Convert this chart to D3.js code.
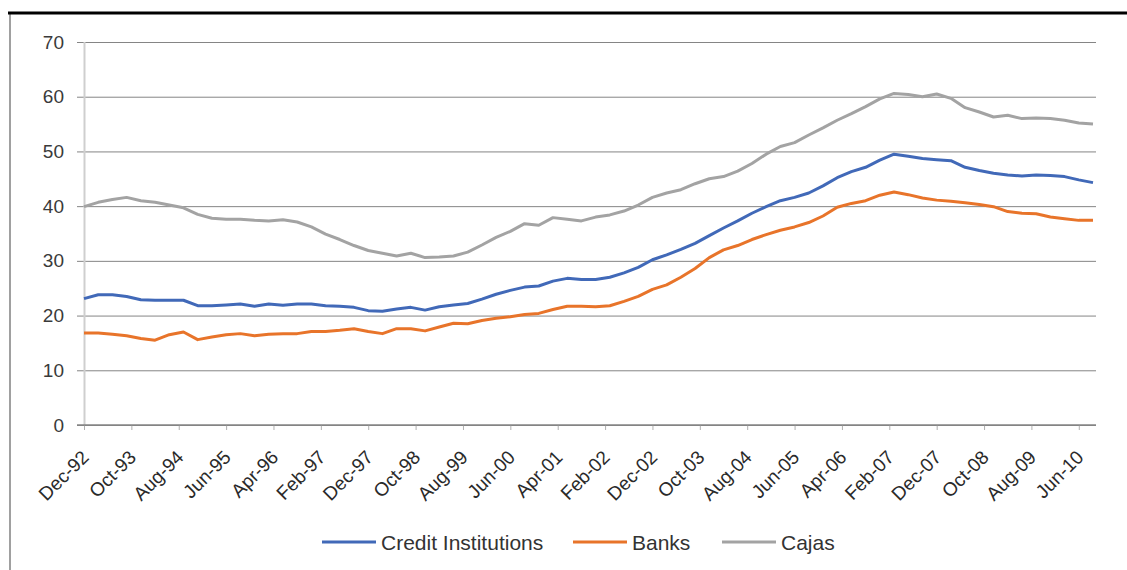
<!DOCTYPE html>
<html>
<head>
<meta charset="utf-8">
<script src="https://cdn.jsdelivr.net/npm/d3@7"></script>
<style>
  body { margin: 0; background: #fff; }
  svg { display: block; font-family: "Liberation Sans", Arial, sans-serif; }
</style>
</head>
<body>
<svg id="chart" width="1127" height="570"></svg>
<script>
// quarterly readings, Dec-92 .. Sep-10 (month offset 0..213)
const months = d3.range(0, 214, 3);

const cajas = [39.9, 40.7, 41.2, 41.6, 41.0, 40.7, 40.2, 39.7, 38.5, 37.8, 37.6, 37.6, 37.4, 37.3, 37.5, 37.1, 36.2, 34.9,
    33.9, 32.8, 31.9, 31.4, 30.9, 31.4, 30.6, 30.7, 30.9, 31.6, 32.9, 34.3, 35.4, 36.8, 36.5, 37.9, 37.6, 37.3,
    38.0, 38.4, 39.1, 40.2, 41.6, 42.4, 43.0, 44.1, 45.0, 45.4, 46.4, 47.8, 49.5, 50.9, 51.6, 53.0, 54.3, 55.7,
    56.9, 58.2, 59.6, 60.6, 60.4, 60.0, 60.5, 59.7, 58.0, 57.2, 56.3, 56.6, 56.0, 56.1, 56.0, 55.7, 55.2, 55.0];

const creditInst = [23.1, 23.8, 23.8, 23.5, 22.9, 22.8, 22.8, 22.8, 21.8, 21.8, 21.95, 22.1, 21.7, 22.1, 21.9, 22.1, 22.1, 21.8,
    21.7, 21.5, 20.9, 20.8, 21.2, 21.5, 21.0, 21.6, 21.95, 22.2, 23.0, 23.9, 24.6, 25.2, 25.4, 26.3, 26.8, 26.6,
    26.6, 27.0, 27.8, 28.8, 30.2, 31.1, 32.1, 33.2, 34.6, 36.0, 37.3, 38.7, 39.9, 41.0, 41.6, 42.4, 43.7, 45.2,
    46.3, 47.1, 48.4, 49.5, 49.1, 48.7, 48.5, 48.3, 47.1, 46.5, 46.0, 45.7, 45.5, 45.7, 45.6, 45.4, 44.8, 44.3];

const banks = [16.8, 16.8, 16.6, 16.3, 15.8, 15.5, 16.5, 17.0, 15.6, 16.1, 16.5, 16.7, 16.3, 16.6, 16.7, 16.7, 17.1, 17.1,
    17.3, 17.6, 17.1, 16.7, 17.6, 17.6, 17.2, 17.9, 18.6, 18.5, 19.1, 19.5, 19.8, 20.2, 20.4, 21.1, 21.7, 21.7,
    21.6, 21.8, 22.6, 23.5, 24.8, 25.6, 27.0, 28.6, 30.6, 32.0, 32.8, 33.9, 34.8, 35.6, 36.2, 37.0, 38.2, 39.8,
    40.5, 41.0, 42.0, 42.6, 42.1, 41.5, 41.1, 40.9, 40.6, 40.3, 39.9, 39.0, 38.7, 38.6, 38.0, 37.7, 37.4, 37.4];

// one label every 10 months
const tickLabels = ["Dec-92", "Oct-93", "Aug-94", "Jun-95", "Apr-96", "Feb-97", "Dec-97", "Oct-98", "Aug-99", "Jun-00",
    "Apr-01", "Feb-02", "Dec-02", "Oct-03", "Aug-04", "Jun-05", "Apr-06", "Feb-07", "Dec-07", "Oct-08", "Aug-09", "Jun-10"];
const yTicks = [0, 10, 20, 30, 40, 50, 60, 70];

const seriesNames = ["Credit Institutions", "Banks", "Cajas"];
const seriesColors = ["#4169b8", "#e8742a", "#a3a3a3"];

const svg = d3.select("#chart");

let x = d3.scaleLinear().domain([0, 213]).range([84, 1093]);
let y = d3.scaleLinear().domain([0, 70]).range([425, 42]);

// outer frame
svg.append("line").attr("x1", 10).attr("x2", 10).attr("y1", 12).attr("y2", 570)
    .style("stroke", "#a0a0a0").style("stroke-width", 2);
svg.append("line").attr("x1", 8).attr("x2", 1127).attr("y1", 13).attr("y2", 13)
    .style("stroke", "#000").style("stroke-width", 3);

// gridlines + y labels
let yAxis = d3.axisLeft(y).tickValues(yTicks).tickSize(-(1096 - 77)).tickPadding(13);
let yG = svg.append("g").attr("transform", "translate(77,0)").call(yAxis);
yG.select(".domain").remove();
yG.selectAll(".tick line").style("stroke", "#858585").style("stroke-width", 1);
yG.selectAll(".tick text").style("font-size", "19px").style("fill", "#3a3a3a");

// vertical axis line
svg.append("line").attr("x1", 84.5).attr("x2", 84.5).attr("y1", y(70)).attr("y2", y(0))
    .style("stroke", "#cfcfcf").style("stroke-width", 2);

// x axis
let xAxis = d3.axisBottom(x)
    .tickValues(tickLabels.map(function(d, i){ return i * 10; }))
    .tickFormat(function(d){ return tickLabels[d / 10]; })
    .tickSize(5).tickSizeOuter(0);
let xG = svg.append("g").attr("transform", "translate(0," + y(0) + ")").call(xAxis);
xG.select(".domain").remove();
xG.selectAll(".tick line").style("stroke", "#b0b0b0");
xG.selectAll(".tick text")
    .style("font-size", "19px").style("fill", "#2a2a2a")
    .attr("text-anchor", "end")
    .attr("y", 0).attr("dy", "0.7em")
    .attr("transform", "translate(-4,24) rotate(-45)");
svg.append("line").attr("x1", 77).attr("x2", 1096).attr("y1", y(0)).attr("y2", y(0))
    .style("stroke", "#858585").style("stroke-width", 1.5);

// series lines
let line = d3.line()
    .x(function(d, i){ return x(months[i]); })
    .y(function(d){ return y(d); });

[creditInst, banks, cajas].forEach(function(s, sIdx){
    svg.append("path")
        .attr("d", line(s))
        .style("fill", "none")
        .style("stroke", seriesColors[sIdx])
        .style("stroke-width", 3)
        .style("stroke-linejoin", "round");
});

// legend
let legendX = [322, 573, 722];
let legend = svg.append("g").attr("class", "legend");
seriesNames.forEach(function(n, i){
    legend.append("line")
        .attr("x1", legendX[i]).attr("x2", legendX[i] + 54)
        .attr("y1", 542).attr("y2", 542)
        .style("stroke", seriesColors[i]).style("stroke-width", 3);
    legend.append("text")
        .attr("x", legendX[i] + 59).attr("y", 542).attr("dy", "0.36em")
        .style("font-size", "21px").style("fill", "#333")
        .text(n);
});
</script>
</body>
</html>
